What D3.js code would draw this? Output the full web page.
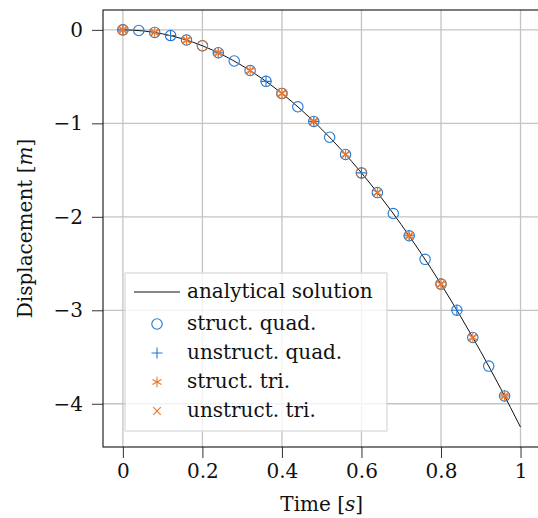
<!DOCTYPE html>
<html><head><meta charset="utf-8">
<script src="https://cdn.jsdelivr.net/npm/d3@7"></script>
<style>
html,body{margin:0;padding:0;background:#fff;}
svg text{font-family:"DejaVu Serif",serif;fill:#111;}
</style></head>
<body><svg id="chart" width="538" height="518"></svg>
<script>
// ---- data ----
const lineTime = [0,0.05,0.1,0.15,0.2,0.25,0.3,0.35,0.4,0.45,0.5,0.55,0.6,0.65,0.7,0.75,0.8,0.85,0.9,0.95,1.0];
const lineDisp = [0,-0.011,-0.043,-0.096,-0.17,-0.266,-0.383,-0.521,-0.68,-0.861,-1.063,-1.286,-1.53,-1.796,-2.083,-2.391,-2.72,-3.071,-3.443,-3.836,-4.25];

const structQuadTime = [0,0.04,0.08,0.12,0.16,0.2,0.24,0.28,0.32,0.36,0.4,0.44,0.48,0.52,0.56,0.6,0.64,0.68,0.72,0.76,0.8,0.84,0.88,0.92,0.96];
const structQuadDisp = [0,-0.007,-0.027,-0.061,-0.109,-0.17,-0.245,-0.333,-0.435,-0.551,-0.68,-0.823,-0.979,-1.149,-1.333,-1.53,-1.741,-1.965,-2.203,-2.455,-2.72,-2.999,-3.291,-3.597,-3.917];

const unstructQuadTime = [0,0.12,0.24,0.36,0.48,0.6,0.72,0.84,0.96];
const unstructQuadDisp = [0,-0.061,-0.245,-0.551,-0.979,-1.53,-2.203,-2.999,-3.917];

const structTriTime = [0,0.08,0.16,0.24,0.32,0.4,0.48,0.56,0.64,0.72,0.8,0.88,0.96];
const structTriDisp = [0,-0.027,-0.109,-0.245,-0.435,-0.68,-0.979,-1.333,-1.741,-2.203,-2.72,-3.291,-3.917];

const unstructTriTime = [0,0.08,0.16,0.24,0.32,0.4,0.48,0.56,0.64,0.72,0.8,0.88,0.96];
const unstructTriDisp = [0,-0.027,-0.109,-0.245,-0.435,-0.68,-0.979,-1.333,-1.741,-2.203,-2.72,-3.291,-3.917];

// unlabeled ring markers (appear brownish in the reference)
const extraRingTime = [0,0.2,0.4,0.6,0.8];
const extraRingDisp = [0,-0.17,-0.68,-1.53,-2.72];

const xTicks = [0,0.2,0.4,0.6,0.8,1];
const xTickLabels = ["0","0.2","0.4","0.6","0.8","1"];
const yTicks = [0,-1,-2,-3,-4];
const yTickLabels = ["0","\u22121","\u22122","\u22123","\u22124"];
const legendLabels = ["analytical solution","struct. quad.","unstruct. quad.","struct. tri.","unstruct. tri."];

// ---- styling ----
const BLUE = "#2179d4", ORANGE = "#ea762c", BROWN = "#b8764a";
const FS = 20;
const FONT = '"DejaVu Serif", serif';

const svg = d3.select("#chart");
const L = 103, T = 10, R = 540.4, B = 447;
const x = d3.scaleLinear().domain([-0.05,1.05]).range([L,R]);
const y = d3.scaleLinear().domain([-4.4625,0.2125]).range([B,T]);

// grid
const grid = svg.append("g");
grid.selectAll("line.gx").data(xTicks).join("line")
  .attr("x1",d=>x(d)).attr("x2",d=>x(d)).attr("y1",T).attr("y2",B)
  .attr("stroke","#c4c4c4").attr("stroke-width",1.3);
grid.selectAll("line.gy").data(yTicks).join("line")
  .attr("y1",d=>y(d)).attr("y2",d=>y(d)).attr("x1",L).attr("x2",R)
  .attr("stroke","#c4c4c4").attr("stroke-width",1.3);

// axes
const xAxis = d3.axisBottom(x).tickValues(xTicks).tickFormat((d,i)=>xTickLabels[i]).tickSize(11).tickPadding(6);
const yAxis = d3.axisLeft(y).tickValues(yTicks).tickFormat((d,i)=>yTickLabels[i]).tickSize(11).tickPadding(9);
const gx = svg.append("g").attr("transform",`translate(0,${B})`).call(xAxis);
const gy = svg.append("g").attr("transform",`translate(${L},0)`).call(yAxis);
[gx,gy].forEach(g=>{
  g.attr("font-family",null).attr("font-size",null);
  g.select(".domain").remove();
  g.selectAll(".tick line").attr("stroke","#333").attr("stroke-width",1);
  g.selectAll(".tick text").style("font-family",FONT).style("font-size",FS+"px").attr("fill","#111");
});

// frame
svg.append("rect").attr("x",L).attr("y",T).attr("width",R-L).attr("height",B-T)
  .attr("fill","none").attr("stroke","#111").attr("stroke-width",1.1);

// analytical line
const lineData = lineTime.map((t,i)=>[t,lineDisp[i]]);
svg.append("path").datum(lineData)
  .attr("d",d3.line().x(d=>x(d[0])).y(d=>y(d[1])).curve(d3.curveMonotoneX))
  .attr("fill","none").attr("stroke","#111").attr("stroke-width",1);

// marker symbols
function circleM(g,cx,cy,c){g.append("circle").attr("cx",cx).attr("cy",cy).attr("r",5.2).attr("fill","none").attr("stroke",c).attr("stroke-width",1.1);}
function plusM(g,cx,cy,c){g.append("path").attr("d",`M${cx-5.5},${cy}H${cx+5.5}M${cx},${cy-5.5}V${cy+5.5}`).attr("stroke",c).attr("stroke-width",1.1).attr("fill","none");}
function starM(g,cx,cy,c){
  const r=5.2; let d="";
  for(let k=0;k<3;k++){const a=Math.PI/2+k*Math.PI/3; d+=`M${cx-r*Math.cos(a)},${cy-r*Math.sin(a)}L${cx+r*Math.cos(a)},${cy+r*Math.sin(a)}`;}
  g.append("path").attr("d",d).attr("stroke",c).attr("stroke-width",1.1).attr("fill","none");
}
function crossM(g,cx,cy,c){const r=3.8;g.append("path").attr("d",`M${cx-r},${cy-r}L${cx+r},${cy+r}M${cx-r},${cy+r}L${cx+r},${cy-r}`).attr("stroke",c).attr("stroke-width",1.1).attr("fill","none");}

const mk = svg.append("g");
structQuadTime.forEach((t,i)=>circleM(mk,x(t),y(structQuadDisp[i]),BLUE));
extraRingTime.forEach((t,i)=>circleM(mk,x(t),y(extraRingDisp[i]),BROWN));
unstructQuadTime.forEach((t,i)=>plusM(mk,x(t),y(unstructQuadDisp[i]),BLUE));
structTriTime.forEach((t,i)=>starM(mk,x(t),y(structTriDisp[i]),ORANGE));
unstructTriTime.forEach((t,i)=>crossM(mk,x(t),y(unstructTriDisp[i]),ORANGE));

// legend
const lg = svg.append("g");
lg.append("rect").attr("x",125).attr("y",273).attr("width",262).attr("height",158)
  .attr("fill","#fff").attr("fill-opacity",0.8).attr("stroke","#cfcfcf").attr("stroke-width",1);
const rowY = [292,324,353,382,411];
lg.append("line").attr("x1",134).attr("x2",180).attr("y1",rowY[0]).attr("y2",rowY[0]).attr("stroke","#111").attr("stroke-width",1);
circleM(lg,157,rowY[1],BLUE);
plusM(lg,157,rowY[2],BLUE);
starM(lg,157,rowY[3],ORANGE);
crossM(lg,157,rowY[4],ORANGE);
lg.selectAll("text.lt").data(legendLabels).join("text")
  .attr("x",187).attr("y",(d,i)=>rowY[i]).attr("dy","0.32em")
  .style("font-family",FONT).style("font-size",FS+"px").text(d=>d);

// axis labels
const xl = svg.append("text").attr("x",(L+R)/2).attr("y",511).attr("text-anchor","middle").style("font-family",FONT).style("font-size",FS+"px");
xl.append("tspan").text("Time [");
xl.append("tspan").style("font-style","italic").text("s");
xl.append("tspan").text("]");
const yl = svg.append("text").attr("transform",`translate(32,${(T+B)/2}) rotate(-90)`).attr("text-anchor","middle").style("font-family",FONT).style("font-size",FS+"px");
yl.append("tspan").text("Displacement [");
yl.append("tspan").style("font-style","italic").text("m");
yl.append("tspan").text("]");
</script></body></html>
